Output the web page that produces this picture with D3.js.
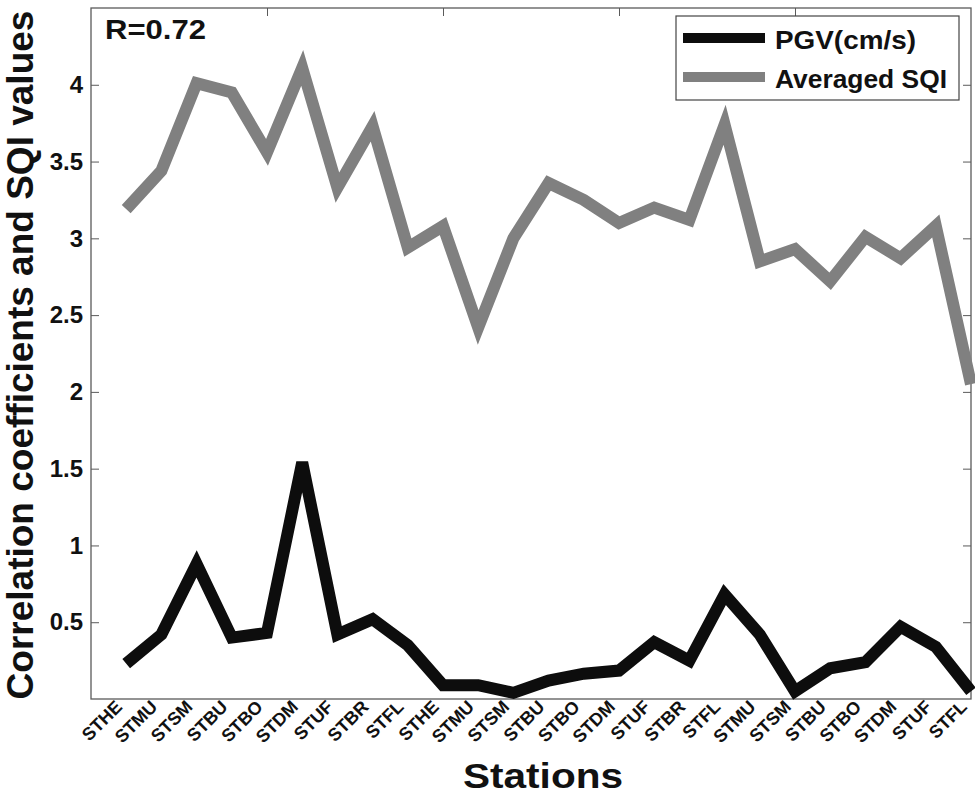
<!DOCTYPE html>
<html>
<head>
<meta charset="utf-8">
<script src="https://cdn.jsdelivr.net/npm/d3@7"></script>
<style>
  html, body { margin: 0; padding: 0; background: #fff; }
  svg { display: block; font-family: "Liberation Sans", Arial, sans-serif; }
</style>
</head>
<body>
<svg id="chart" width="975" height="796"></svg>
<script>
// Station labels along the x axis (one per sample)
const stations = ["STHE","STMU","STSM","STBU","STBO","STDM","STUF","STBR","STFL",
                  "STHE","STMU","STSM","STBU","STBO","STDM","STUF","STBR","STFL",
                  "STMU","STSM","STBU","STBO","STDM","STUF","STFL"];

// Peak ground velocity (cm/s)
const pgv = [0.23, 0.42, 0.88, 0.40, 0.43, 1.54, 0.42, 0.52, 0.35,
             0.09, 0.09, 0.04, 0.12, 0.165, 0.185, 0.37, 0.25, 0.68,
             0.42, 0.05, 0.20, 0.24, 0.47, 0.34, 0.05];

// Averaged site quality index
const sqi = [3.19, 3.44, 4.01, 3.95, 3.56, 4.11, 3.33, 3.73, 2.94,
             3.08, 2.42, 3.00, 3.36, 3.25, 3.10, 3.20, 3.12, 3.74,
             2.85, 2.93, 2.72, 3.01, 2.87, 3.08, 2.05];

const yTicks = [0.5, 1, 1.5, 2, 2.5, 3, 3.5, 4];
const xTopTicks = [5, 10, 15, 20];
const seriesNames = ["PGV(cm/s)", "Averaged SQI"];
const annotation = "R=0.72";

(function draw() {
  const svg = d3.select("#chart");
  const plotLeft = 91, plotRight = 971, plotTop = 8, plotBottom = 699;

  const x = d3.scaleLinear().domain([0, 25]).range([plotLeft, plotRight]);
  const y = d3.scaleLinear().domain([0, 4.5]).range([plotBottom, plotTop]);

  const frameColor = "#5a5a5a";
  const gray = "#808080";
  const black = "#0d0d0d";

  // Left axis: labels outside, ticks pointing inward
  const leftAxis = d3.axisLeft(y).tickValues(yTicks).tickFormat(d3.format("~g"))
    .tickSize(-8).tickPadding(16);
  const gL = svg.append("g").attr("transform", `translate(${plotLeft},0)`).call(leftAxis);
  gL.select(".domain").remove();
  gL.selectAll(".tick line").attr("stroke", frameColor);
  gL.selectAll(".tick text").attr("font-size", 24).attr("font-weight", "bold")
    .attr("font-family", "Liberation Sans, Arial, sans-serif")
    .attr("fill", "#111").attr("x", -8);

  // Right axis: inward ticks only
  const rightAxis = d3.axisRight(y).tickValues(yTicks).tickFormat("").tickSize(-8);
  const gR = svg.append("g").attr("transform", `translate(${plotRight},0)`).call(rightAxis);
  gR.select(".domain").remove();
  gR.selectAll(".tick line").attr("stroke", frameColor);

  // Top axis: inward ticks only
  const topAxis = d3.axisTop(x).tickValues(xTopTicks).tickFormat("").tickSize(-8);
  const gT = svg.append("g").attr("transform", `translate(0,${plotTop})`).call(topAxis);
  gT.select(".domain").remove();
  gT.selectAll(".tick line").attr("stroke", frameColor);

  // Plot frame
  svg.append("rect")
    .attr("x", plotLeft).attr("y", plotTop)
    .attr("width", plotRight - plotLeft).attr("height", plotBottom - plotTop)
    .attr("fill", "none").attr("stroke", frameColor).attr("stroke-width", 1.3);

  // Series lines
  const line = d3.line().x((d, i) => x(i + 1)).y(d => y(d));

  svg.append("path").datum(sqi)
    .attr("d", line).attr("fill", "none").attr("stroke", gray)
    .attr("stroke-width", 12).attr("stroke-linejoin", "miter");

  svg.append("path").datum(pgv)
    .attr("d", line).attr("fill", "none").attr("stroke", black)
    .attr("stroke-width", 12).attr("stroke-linejoin", "miter");

  // Rotated station labels under the axis
  svg.append("g").selectAll("text").data(stations).join("text")
    .attr("transform", (d, i) => `translate(${x(i + 1) - 3},${plotBottom + 9}) rotate(-45)`)
    .attr("text-anchor", "end")
    .attr("font-size", 18).attr("font-weight", "bold").attr("fill", "#111")
    .text(d => d);

  // Axis titles
  svg.append("text")
    .attr("x", 543).attr("y", 788)
    .attr("text-anchor", "middle")
    .attr("font-size", 35).attr("font-weight", "bold").attr("fill", "#111")
    .attr("textLength", 160).attr("lengthAdjust", "spacingAndGlyphs")
    .text("Stations");

  svg.append("text")
    .attr("transform", `translate(33,355) rotate(-90)`)
    .attr("text-anchor", "middle")
    .attr("font-size", 37).attr("font-weight", "bold").attr("fill", "#111")
    .text("Correlation coefficients and SQI values");

  // Correlation annotation
  svg.append("text")
    .attr("x", 105).attr("y", 39)
    .attr("font-size", 28).attr("font-weight", "bold").attr("fill", "#111")
    .attr("textLength", 101).attr("lengthAdjust", "spacingAndGlyphs")
    .text(annotation);

  // Legend
  const lg = svg.append("g");
  lg.append("rect").attr("x", 676).attr("y", 16).attr("width", 283).attr("height", 84)
    .attr("fill", "#fff").attr("stroke", "#444").attr("stroke-width", 1.2);
  const legendItems = [
    { name: seriesNames[0], color: black, yLine: 38, yText: 49, len: 141 },
    { name: seriesNames[1], color: gray, yLine: 77, yText: 88, len: 172 }
  ];
  legendItems.forEach(it => {
    lg.append("line").attr("x1", 683).attr("x2", 765).attr("y1", it.yLine).attr("y2", it.yLine)
      .attr("stroke", it.color).attr("stroke-width", 10);
    lg.append("text").attr("x", 775).attr("y", it.yText)
      .attr("font-size", 26).attr("font-weight", "bold").attr("fill", "#111")
      .attr("textLength", it.len).attr("lengthAdjust", "spacingAndGlyphs")
      .text(it.name);
  });
})();
</script>
</body>
</html>
